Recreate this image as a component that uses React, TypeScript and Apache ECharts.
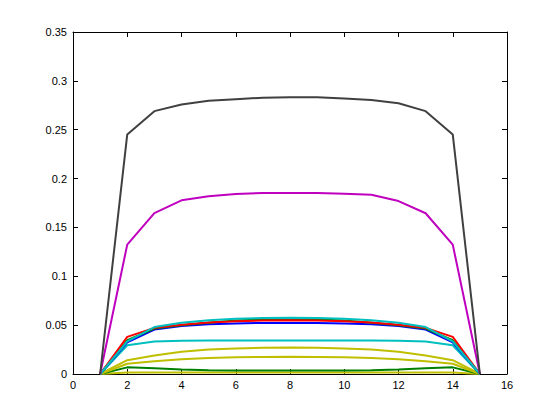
import React, { useEffect, useRef } from "react";
import * as echarts from "echarts";

const xValues = [1, 2, 3, 4, 5, 6, 7, 8, 9, 10, 11, 12, 13, 14, 15];
const xTicks = [0, 2, 4, 6, 8, 10, 12, 14, 16];
const yTicks = [0, 0.05, 0.1, 0.15, 0.2, 0.25, 0.3, 0.35];

const yellowLow = [0, 0.0015, 0.0016, 0.0016, 0.0016, 0.0016, 0.0016, 0.0016, 0.0016, 0.0016, 0.0016, 0.0016, 0.0016, 0.0015, 0];
const greenLow = [0, 0.0068, 0.0058, 0.0046, 0.0038, 0.0036, 0.0035, 0.0035, 0.0035, 0.0036, 0.0038, 0.0046, 0.0058, 0.0068, 0];
const yellowMid = [0, 0.0105, 0.013, 0.015, 0.0165, 0.0172, 0.0175, 0.0176, 0.0175, 0.0172, 0.0165, 0.015, 0.013, 0.0105, 0];
const yellowHigh = [0, 0.0141, 0.019, 0.0228, 0.025, 0.0262, 0.0268, 0.027, 0.0268, 0.0262, 0.025, 0.0228, 0.019, 0.0141, 0];
const cyanLow = [0, 0.0294, 0.0332, 0.034, 0.0342, 0.0343, 0.0343, 0.0343, 0.0343, 0.0343, 0.0342, 0.034, 0.0332, 0.0294, 0];
const blueMid = [0, 0.0325, 0.0455, 0.049, 0.0508, 0.0518, 0.0522, 0.0523, 0.0522, 0.0518, 0.0508, 0.049, 0.0455, 0.0325, 0];
const greenMid = [0, 0.0345, 0.0465, 0.05, 0.0525, 0.0548, 0.0558, 0.056, 0.0558, 0.0548, 0.0525, 0.05, 0.0465, 0.0345, 0];
const redMid = [0, 0.038, 0.0472, 0.0505, 0.0526, 0.054, 0.0548, 0.055, 0.0548, 0.054, 0.0526, 0.0505, 0.0472, 0.038, 0];
const cyanHigh = [0, 0.0335, 0.048, 0.0525, 0.055, 0.0566, 0.0573, 0.0575, 0.0573, 0.0566, 0.055, 0.0525, 0.048, 0.0335, 0];
const magenta = [0, 0.1324, 0.1647, 0.1777, 0.1818, 0.1842, 0.1852, 0.1853, 0.1852, 0.1845, 0.1835, 0.177, 0.1645, 0.1324, 0];
const darkGray = [0, 0.2452, 0.2690, 0.2759, 0.2796, 0.2813, 0.2827, 0.2833, 0.2832, 0.282, 0.2805, 0.277, 0.269, 0.2452, 0];

const seriesDefs: { name: string; color: string; values: number[] }[] = [
  { name: "y1", color: "#bfbf00", values: yellowLow },
  { name: "g1", color: "#008000", values: greenLow },
  { name: "y2", color: "#bfbf00", values: yellowMid },
  { name: "y3", color: "#bfbf00", values: yellowHigh },
  { name: "c1", color: "#00bfbf", values: cyanLow },
  { name: "b1", color: "#0000ff", values: blueMid },
  { name: "g2", color: "#008000", values: greenMid },
  { name: "r1", color: "#ff0000", values: redMid },
  { name: "c2", color: "#00bfbf", values: cyanHigh },
  { name: "m1", color: "#bf00bf", values: magenta },
  { name: "k1", color: "#404040", values: darkGray },
];

export default function App() {
  const ref = useRef<HTMLDivElement>(null);
  useEffect(() => {
    if (!ref.current) return;
    const chart = echarts.init(ref.current, undefined, { renderer: "svg" });
    const font = { fontFamily: "Liberation Sans", fontSize: 11, color: "#000" };
    const axisBase = {
      axisLine: { show: true, onZero: false, lineStyle: { color: "#000", width: 1 } },
      axisTick: { show: true, inside: true, length: 5, lineStyle: { color: "#000" } },
      splitLine: { show: false },
    };
    chart.setOption({
      animation: false,
      backgroundColor: "#ffffff",
      grid: { left: 73, right: 53, top: 32, bottom: 46, containLabel: false },
      xAxis: [
        {
          type: "value",
          min: xTicks[0],
          max: xTicks[xTicks.length - 1],
          interval: 2,
          position: "bottom",
          ...axisBase,
          axisLabel: { ...font, margin: 5 },
        },
        {
          type: "value",
          min: xTicks[0],
          max: xTicks[xTicks.length - 1],
          interval: 2,
          position: "top",
          ...axisBase,
          axisLabel: { show: false },
        },
      ],
      yAxis: [
        {
          type: "value",
          min: yTicks[0],
          max: yTicks[yTicks.length - 1],
          interval: 0.05,
          position: "left",
          ...axisBase,
          axisLabel: { ...font, margin: 6 },
        },
        {
          type: "value",
          min: yTicks[0],
          max: yTicks[yTicks.length - 1],
          interval: 0.05,
          position: "right",
          ...axisBase,
          axisLabel: { show: false },
        },
      ],
      series: seriesDefs.map((s) => ({
        name: s.name,
        type: "line",
        xAxisIndex: 0,
        yAxisIndex: 0,
        data: xValues.map((x, i) => [x, s.values[i]]),
        showSymbol: false,
        symbol: "none",
        lineStyle: { color: s.color, width: 2 },
        itemStyle: { color: s.color },
      })),
    });
    return () => chart.dispose();
  }, []);
  return <div ref={ref} style={{ width: 560, height: 420, position: "absolute", left: 0, top: 0 }} />;
}
